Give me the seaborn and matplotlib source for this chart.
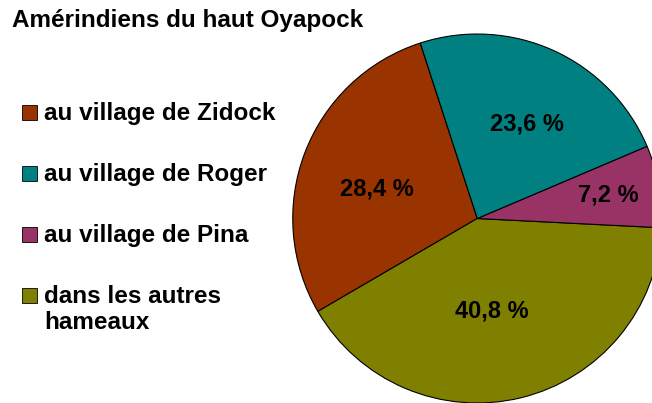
"""
Amérindiens du haut Oyapock - répartition par village (camembert)
"""

import numpy as np
import matplotlib.pyplot as plt
from matplotlib.patches import Rectangle
import seaborn as sns

sns.set_theme(style="white")
plt.rcParams["font.family"] = ["Liberation Sans", "DejaVu Sans"]
plt.rcParams["font.weight"] = "bold"
plt.rcParams["text.color"] = "black"

# ── Data ─────────────────────────────────────────────────────────────────────
labels = ["au village de Zidock", "au village de Roger",
          "au village de Pina", "dans les autres\nhameaux"]
shares = [28.4, 23.6, 7.2, 40.8]
pct_labels = ["28,4 %", "23,6 %", "7,2 %", "40,8 %"]
colors = ["#993300", "#008080", "#993366", "#808000"]

# drawing order around the pie (counter-clockwise from the top-left)
draw_order = [0, 3, 2, 1]
label_dist = [0.565, 0.58, 0.72, 0.51]
label_shift = [4.5, -3.0, 0.0, -4.5]   # degrees off the wedge mid-angle

W, H = 652, 403

# ── Plot ─────────────────────────────────────────────────────────────────────
fig = plt.figure(figsize=(W / 100, H / 100), dpi=100)
ax = fig.add_axes([0.449, 0.0, 0.566, 0.9156])

wedges, _ = ax.pie([shares[i] for i in draw_order],
                   colors=[colors[i] for i in draw_order],
                   startangle=108, counterclock=True, radius=1.0,
                   wedgeprops={"edgecolor": "black", "linewidth": 0.8,
                               "clip_on": False})
ax.set_aspect("auto")
ax.set_xlim(-1, 1)
ax.set_ylim(-1, 1)
ax.axis("off")

# percentage labels placed along each wedge's mid angle
for w, i in zip(wedges, draw_order):
    mid = np.deg2rad((w.theta1 + w.theta2) / 2 + label_shift[i])
    r = label_dist[i]
    ax.text(r * np.cos(mid), r * np.sin(mid), pct_labels[i],
            ha="center", va="center", fontsize=17, fontweight="bold")

# legend on the left: square key aligned with the first line of each label
for k, (lab, col) in enumerate(zip(labels, colors)):
    base = 119.5 + 61.3 * k
    fig.patches.append(Rectangle((22 / W, 1 - base / H), 15 / W, 15 / H,
                                 transform=fig.transFigure, facecolor=col,
                                 edgecolor="black", linewidth=0.6))
    top = fig.text(44 / W, 1 - base / H, lab.split("\n")[0], fontsize=17.5,
                   fontweight="bold", va="baseline", ha="left")
    for j, extra in enumerate(lab.split("\n")[1:], start=1):
        fig.text(44 / W, 1 - (base + 25.5 * j) / H, extra, fontsize=17.5,
                 fontweight="bold", va="baseline", ha="left")

fig.text(12 / W, 1 - 27 / H, "Amérindiens du haut Oyapock",
         fontsize=17.5, fontweight="bold", va="baseline", ha="left")

plt.savefig("out.png", dpi=100)
